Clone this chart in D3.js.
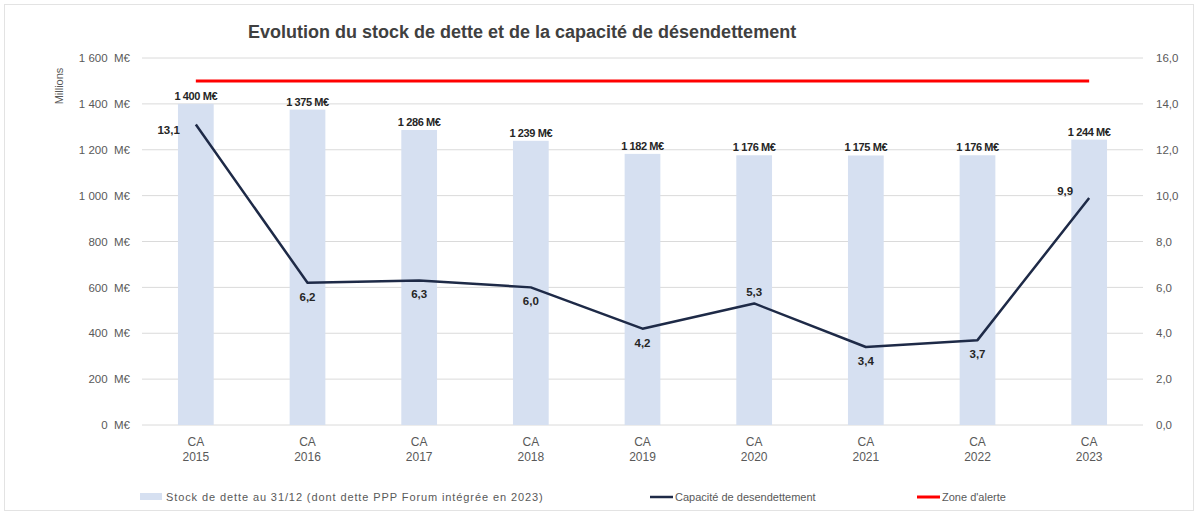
<!DOCTYPE html>
<html>
<head>
<meta charset="utf-8">
<script src="https://cdn.jsdelivr.net/npm/d3@7"></script>
<style>
  body { margin: 0; background: #fff; }
  svg { display: block; font-family: "Liberation Sans", Arial, sans-serif; }
</style>
</head>
<body>
<div id="chart"></div>
<script>
"use strict"

//----------------------------DATA------------------------------//
const categories = ["2015", "2016", "2017", "2018", "2019", "2020", "2021", "2022", "2023"];
const stockDette = [1400, 1375, 1286, 1239, 1182, 1176, 1175, 1176, 1244];
const capacite = [13.1, 6.2, 6.3, 6.0, 4.2, 5.3, 3.4, 3.7, 9.9];
const zoneAlerte = [15, 15, 15, 15, 15, 15, 15, 15, 15];
const leftTicks = [0, 200, 400, 600, 800, 1000, 1200, 1400, 1600];
const rightTicks = [0, 2, 4, 6, 8, 10, 12, 14, 16];
// where the line value label sits: left, below, above
const labelPos = ["left", "below", "below", "below", "below", "above", "below", "below", "leftUp"];

const title = "Evolution du stock de dette et de la capacité de désendettement";
const legendLabels = ["Stock de dette au 31/12 (dont dette PPP Forum intégrée en 2023)",
                      "Capacité de desendettement", "Zone d'alerte"];

//--------------------------LAYOUT------------------------------//
const width = 1198, height = 515;
const plot = {left: 140, right: 1145, top: 58, bottom: 425};
const barColor = "#d6e0f1";
const lineColor = "#1e2a47";
const alertColor = "#ff0000";
const textColor = "#595959";

const svg = d3.select("#chart").append("svg")
    .attr("width", width)
    .attr("height", height);

// frame
svg.append("rect")
    .attr("x", 4.5).attr("y", 4.5)
    .attr("width", width - 9).attr("height", height - 9)
    .attr("fill", "#fff")
    .attr("stroke", "#e3e3e3");

//----------------------------SCALES----------------------------//
const x = d3.scaleBand().domain(categories).range([plot.left, plot.right]).paddingInner(0.68).paddingOuter(0.34);
const yLeft = d3.scaleLinear().domain([0, 1600]).range([plot.bottom, plot.top]);
const yRight = d3.scaleLinear().domain([0, 16]).range([plot.bottom, plot.top]);
const cx = d => x(d) + x.bandwidth() / 2;

const fmtM = d3.formatLocale({decimal: ",", thousands: "\u00a0", grouping: [3]}).format(",d");
const fmtR = d3.formatLocale({decimal: ",", thousands: " ", grouping: [3]}).format(".1f");

//----------------------------GRID------------------------------//
svg.append("g")
    .selectAll("line")
    .data(leftTicks)
    .join("line")
    .attr("x1", plot.left + 2).attr("x2", plot.right - 2)
    .attr("y1", d => yLeft(d)).attr("y2", d => yLeft(d))
    .attr("stroke", "#dadada")
    .attr("stroke-width", 1);

//-----------------------------AXES-----------------------------//
const leftAxis = d3.axisLeft(yLeft).tickValues(leftTicks).tickSize(0).tickPadding(0)
    .tickFormat(d => fmtM(d) + "\u00a0\u00a0M€");
svg.append("g")
    .attr("transform", `translate(${plot.left - 10},0)`)
    .call(leftAxis)
    .call(g => g.select(".domain").remove())
    .selectAll("text")
    .attr("fill", textColor)
    .style("font-size", "11.5px");

const rightAxis = d3.axisRight(yRight).tickValues(rightTicks).tickSize(0).tickPadding(0)
    .tickFormat(d => fmtR(d));
svg.append("g")
    .attr("transform", `translate(${plot.right + 11},0)`)
    .call(rightAxis)
    .call(g => g.select(".domain").remove())
    .selectAll("text")
    .attr("fill", textColor)
    .style("font-size", "11.5px");

const xAxis = d3.axisBottom(x).tickSize(0).tickPadding(0).tickFormat("");
const xg = svg.append("g")
    .attr("transform", `translate(0,${plot.bottom})`)
    .call(xAxis)
    .call(g => g.select(".domain").remove());
xg.selectAll(".tick").append("text")
    .attr("fill", textColor)
    .style("font-size", "12px")
    .attr("text-anchor", "middle")
    .selectAll("tspan")
    .data(d => ["CA", d])
    .join("tspan")
    .attr("x", 0)
    .attr("y", (d, i) => 21 + i * 15)
    .text(d => d);

svg.append("text")
    .attr("transform", "translate(63,86) rotate(-90)")
    .attr("text-anchor", "middle")
    .attr("fill", textColor)
    .style("font-size", "11px")
    .text("Millions");

//-----------------------------BARS-----------------------------//
svg.append("g")
    .selectAll("rect")
    .data(categories)
    .join("rect")
    .attr("x", d => x(d))
    .attr("width", x.bandwidth())
    .attr("y", (d, i) => yLeft(stockDette[i]))
    .attr("height", (d, i) => yLeft(0) - yLeft(stockDette[i]))
    .attr("fill", barColor);

svg.append("g")
    .selectAll("text")
    .data(categories)
    .join("text")
    .attr("x", d => cx(d))
    .attr("y", (d, i) => yLeft(stockDette[i]) - 4)
    .attr("text-anchor", "middle")
    .attr("fill", "#262626")
    .style("font-size", "11px")
    .style("font-weight", "bold")
    .style("letter-spacing", "-0.4px")
    .text((d, i) => fmtM(stockDette[i]) + "\u00a0M€");

//-------------------------ALERT LINE---------------------------//
svg.append("path")
    .datum(zoneAlerte)
    .attr("fill", "none")
    .attr("stroke", alertColor)
    .attr("stroke-width", 3)
    .attr("d", d3.line().x((d, i) => cx(categories[i])).y(d => yRight(d)));

//-------------------------CAPACITY LINE------------------------//
svg.append("path")
    .datum(capacite)
    .attr("fill", "none")
    .attr("stroke", lineColor)
    .attr("stroke-width", 2.5)
    .attr("stroke-linejoin", "round")
    .attr("d", d3.line().x((d, i) => cx(categories[i])).y(d => yRight(d)));

svg.append("g")
    .selectAll("text")
    .data(capacite)
    .join("text")
    .attr("x", (d, i) => {
        const p = labelPos[i];
        return cx(categories[i]) + (p === "left" || p === "leftUp" ? -16 : 0);
    })
    .attr("y", (d, i) => {
        const p = labelPos[i];
        const y = yRight(d);
        if (p === "below") return y + 18;
        if (p === "above") return y - 7;
        if (p === "leftUp") return y - 3;
        return y + 9;
    })
    .attr("text-anchor", (d, i) => labelPos[i].startsWith("left") ? "end" : "middle")
    .attr("fill", "#262626")
    .style("font-size", "11.5px")
    .style("font-weight", "bold")
    .text(d => fmtR(d));

//----------------------------TITLE-----------------------------//
svg.append("text")
    .attr("x", 248)
    .attr("y", 38)
    .attr("fill", "#404040")
    .style("font-size", "18px")
    .style("font-weight", "bold")
    .text(title);

//----------------------------LEGEND----------------------------//
const legendY = 497;
const legend = svg.append("g");
legend.append("rect")
    .attr("x", 140).attr("y", legendY - 4).attr("width", 22).attr("height", 7)
    .attr("fill", barColor);
legend.append("line")
    .attr("x1", 650).attr("x2", 673).attr("y1", legendY).attr("y2", legendY)
    .attr("stroke", lineColor).attr("stroke-width", 2.5);
legend.append("line")
    .attr("x1", 917).attr("x2", 940).attr("y1", legendY).attr("y2", legendY)
    .attr("stroke", alertColor).attr("stroke-width", 3);
legend.selectAll("text")
    .data(legendLabels)
    .join("text")
    .attr("x", (d, i) => [166, 675, 942][i])
    .attr("y", legendY + 4)
    .attr("fill", textColor)
    .style("font-size", "11px")
    .style("letter-spacing", (d, i) => i === 0 ? "0.9px" : "0px")
    .text(d => d);
</script>
</body>
</html>
